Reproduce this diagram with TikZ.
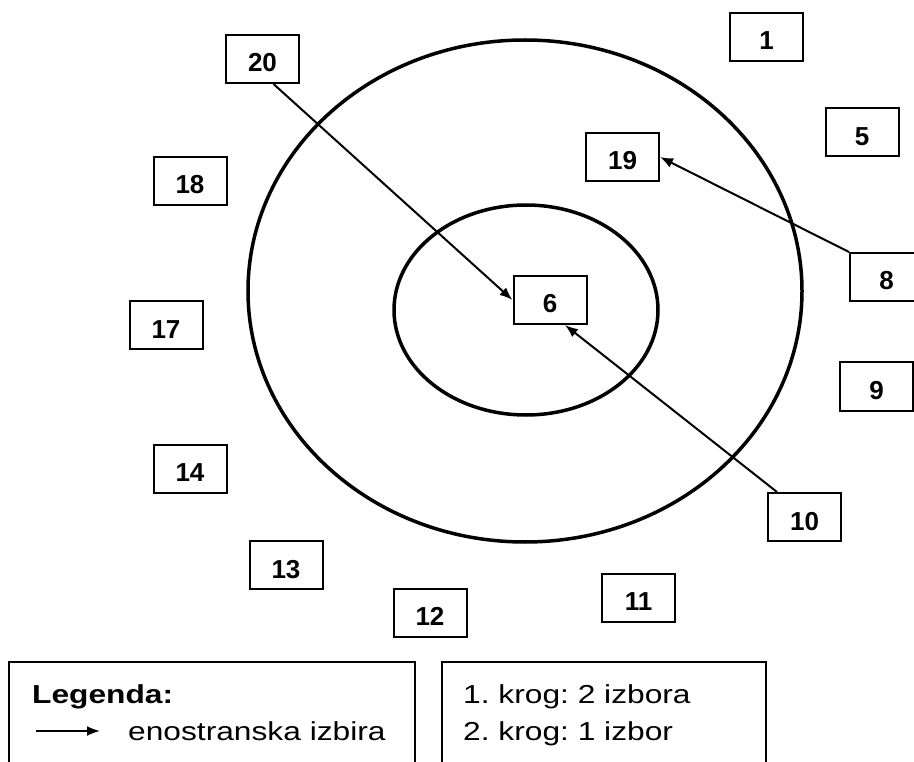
\documentclass[tikz,border=0pt]{standalone}
\usepackage{fontspec}
\setmainfont{Liberation Sans}
\newfontfamily\legfont[FakeStretch=1.22]{Liberation Sans}
\usepackage{tikz}
\usetikzlibrary{positioning}
\usetikzlibrary{arrows.meta}
\frenchspacing

\begin{document}
\begin{tikzpicture}[x=1pt, y=-1pt,
    n/.style={draw, line width=2pt, minimum width=73pt, minimum height=48pt, inner sep=0pt, text height=26pt, text depth=0pt, font=\fontsize{26}{30}\selectfont\bfseries},
    t/.style={anchor=base west, inner sep=0pt, font=\fontsize{26}{37}\legfont},
    arr/.style={line width=2pt, -{Latex[length=13pt,width=10pt]}}]
            \useasboundingbox (0,0) rectangle (914,762);

            % krogi
            \draw[line width=3.5pt] (525,291) ellipse [x radius=277pt, y radius=251pt];
            \draw[line width=3.5pt] (526,310) ellipse [x radius=132pt, y radius=105pt];

            \node[n] (n1) at (766.5, 37) {1};
            \node[n] (n5) at (862, 132.5) {5};
            \node[n] (n19) at (622.5, 157) {19};
            \node[n] (n20) at (262.5, 59) {20};
            \node[n] (n18) at (190, 181) {18};
            \node[n] (n17) at (166, 325) {17};
            \node[n] (n14) at (190, 468.5) {14};
            \node[n] (n13) at (286, 565) {13};
            \node[n] (n12) at (430, 612.5) {12};
            \node[n] (n11) at (638.5, 597.5) {11};
            \node[n] (n10) at (804.5, 517) {10};
            \node[n] (n9) at (876.5, 386.5) {9};
            \node[n] (n8) at (886.5, 277) {8};
            \node[n] (n6) at (550, 300) {6};

            \draw[arr] ([xshift=11pt]n20.south) -- (n6.west);
            \draw[arr] (n8.north west) -- (n19.east);
            \draw[arr] ([xshift=10pt]n10.north west) -- ([xshift=15pt]n6.south);

            % legenda
            \draw[line width=2pt] (9,800) -- (9,662) -- (415,662) -- (415,800);
            \draw[line width=2pt] (442,800) -- (442,662) -- (766,662) -- (766,800);
            \node[t, font=\fontsize{26}{37}\legfont\bfseries] (leg) at (32,703) {Legenda:};
            \coordinate (la) at (36,731);
            \coordinate (lb) at (100,731);
            \draw[arr] (la) -- (lb);
            \node[t] (enos) at (128,740) {enostranska izbira};
            \node[t] (k1) at (463,703) {1. krog: 2 izbora};
            \node[t] (k2) at (463,740) {2. krog: 1 izbor};
        \end{tikzpicture}
\end{document}
